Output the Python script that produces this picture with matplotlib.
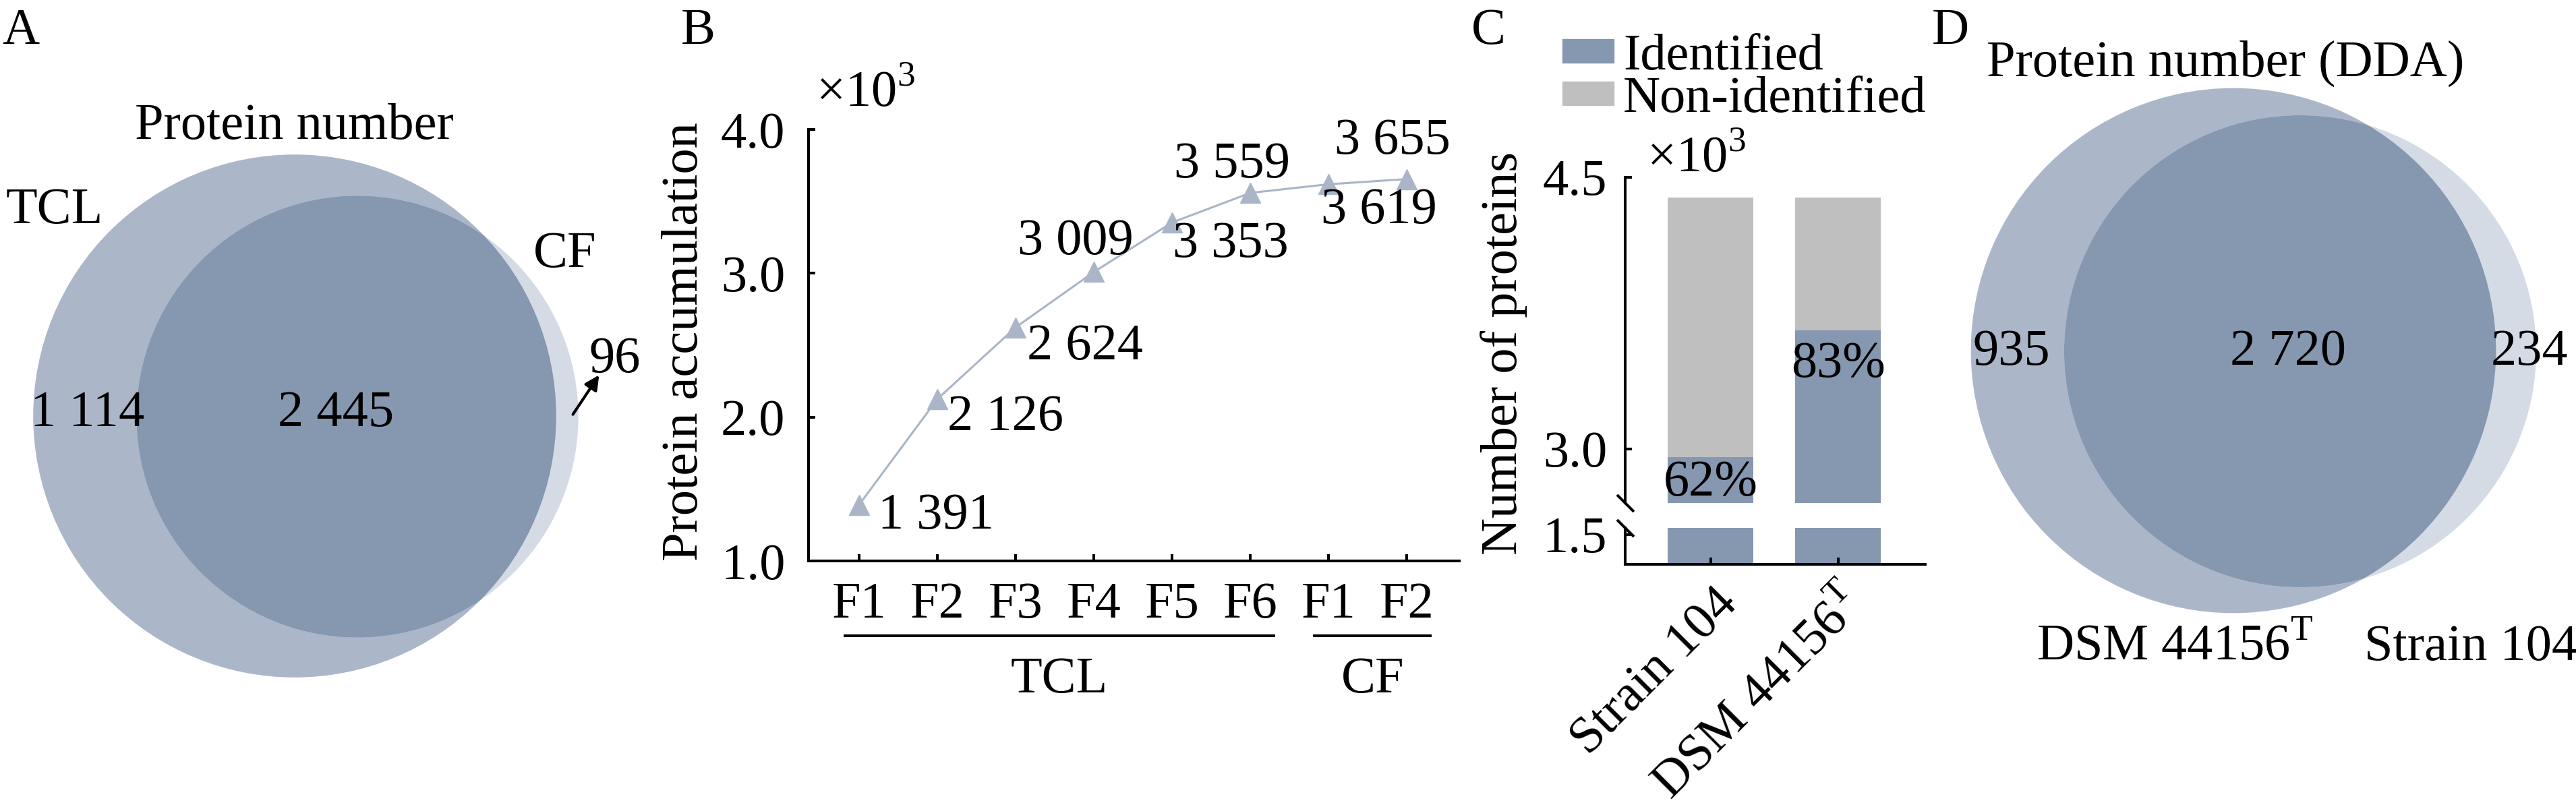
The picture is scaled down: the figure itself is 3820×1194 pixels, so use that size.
import numpy as np
import matplotlib
matplotlib.use('Agg')
import matplotlib.pyplot as plt
from matplotlib.patches import Circle, Patch
from matplotlib import transforms
from matplotlib.ticker import FormatStrFormatter

W, H = 3820, 1194
DPI = 100

# ---- data ----
# A: Venn of protein numbers, TCL vs CF
venn_a_sets = ['TCL', 'CF']
venn_a_only = [1114, 96]
venn_a_shared = 2445

# B: protein accumulation over fractions
fractions = ['F1', 'F2', 'F3', 'F4', 'F5', 'F6', 'F1', 'F2']
fraction_groups = ['TCL', 'CF']
group_first = [0, 6]
group_last = [5, 7]
accumulation = [1391, 2126, 2624, 3009, 3353, 3559, 3619, 3655]

# C: identified / non-identified proteins
strains = ['Strain 104', r'DSM 44156$^{\mathrm{T}}$']
identified = [2954, 3655]
total_proteins = [4390, 4390]
identified_pct = ['62%', '83%']

# D: Venn of protein numbers (DDA)
venn_d_sets = [r'DSM 44156$^{\mathrm{T}}$', 'Strain 104']
venn_d_only = [935, 234]
venn_d_shared = 2720

# ---- style ----
plt.rcParams['font.family'] = ['Liberation Serif', 'DejaVu Serif']
plt.rcParams['mathtext.fontset'] = 'custom'
plt.rcParams['mathtext.rm'] = 'Liberation Serif'
plt.rcParams['font.size'] = 55

MID = '#abb7c9'
DARK = '#8697b0'
LIGHT = '#d5dbe5'
GRAY = '#bfbfbf'
LINE = '#aab5c7'
LW = 2.9


def fmt(n):
    return f'{n:,}'.replace(',', ' ')


def rect(l, t, r, b):
    return [l / W, 1 - b / H, (r - l) / W, (b - t) / H]


def style_axes(ax, left=True, bottom=True):
    for s in ['top', 'right']:
        ax.spines[s].set_visible(False)
    ax.spines['left'].set_visible(left)
    ax.spines['bottom'].set_visible(bottom)
    for s in ['left', 'bottom']:
        ax.spines[s].set_linewidth(LW)
    ax.tick_params(direction='in', length=7, width=LW)


def venn2(ax, centers, sizes, k):
    r = k * np.sqrt(sizes)
    big = Circle(centers[0], r[0], color=MID, lw=0)
    ax.add_patch(big)
    ax.add_patch(Circle(centers[1], r[1], color=LIGHT, lw=0))
    over = Circle(centers[1], r[1], color=DARK, lw=0)
    ax.add_patch(over)
    over.set_clip_path(big)


fig = plt.figure(figsize=(W / DPI, H / DPI), dpi=DPI)

# overlay in pixel units for the Venn panels and free text
ov = fig.add_axes([0, 0, 1, 1])
ov.set_xlim(0, W)
ov.set_ylim(H, 0)
ov.axis('off')

# ---- A ----
sizes_a = np.array([venn_a_only[0] + venn_a_shared, venn_a_only[1] + venn_a_shared])
venn2(ov, [(437, 617), (530, 618)], sizes_a, 6.5)
ov.text(3, 65, 'A', va='baseline')
ov.text(436, 206, 'Protein number', ha='center', va='baseline')
ov.text(9, 331, venn_a_sets[0], va='baseline')
ov.text(791, 396, venn_a_sets[1], va='baseline')
ov.text(130, 632, fmt(venn_a_only[0]), ha='center', va='baseline')
ov.text(498, 632, fmt(venn_a_shared), ha='center', va='baseline')
ov.text(873, 552, fmt(venn_a_only[1]), va='baseline')
ov.annotate('', xy=(890, 554), xytext=(848, 617),
            arrowprops=dict(arrowstyle='-|>', lw=3, color='black', mutation_scale=32))

# ---- B ----
axB = fig.add_axes(rect(1199, 192, 2164, 832))
xb = np.arange(len(fractions))
yb = np.array(accumulation) / 1000
axB.plot(xb, yb, color=LINE, lw=2.2, marker='^', ms=21, clip_on=False, zorder=3)
axB.set_xlim(-0.647, 7.67)
axB.set_ylim(1, 4)
axB.set_yticks([1, 2, 3, 4])
axB.yaxis.set_major_formatter(FormatStrFormatter('%.1f'))
axB.set_xticks(xb, fractions)
style_axes(axB)
axB.tick_params(axis='y', pad=25)
axB.tick_params(axis='x', pad=22)
axB.set_ylabel('Protein accumulation')
axB.yaxis.set_label_coords(-0.154, 0.509)

# label offsets (pixels) and alignment for each point
label_pos = [(28, -35, 'left'), (15, -46, 'left'), (17, -47, 'left'), (-27, 26, 'center'),
             (1, -51, 'left'), (-27, 23, 'center'), (-11, -58, 'left'), (-21, 38, 'center')]
for xi, v, (dx, dy, ha) in zip(xb, accumulation, label_pos):
    axB.annotate(fmt(v), (xi, v / 1000), xytext=(dx, dy), textcoords='offset pixels',
                 ha=ha, va='baseline')

blend = transforms.blended_transform_factory(axB.transData, axB.transAxes)
for g, a, b in zip(fraction_groups, group_first, group_last):
    x0, x1 = a - 0.2, b + 0.32
    axB.plot([x0, x1], [-0.173, -0.173], transform=blend, color='k', lw=LW,
             clip_on=False, solid_capstyle='butt')
    axB.text((x0 + x1) / 2, -0.305, g, transform=blend, ha='center', va='baseline')
ov.text(1010, 65, 'B', va='baseline')
ov.text(1210, 158, '×10$^{3}$', va='baseline')

# ---- C ----
axCu = fig.add_axes(rect(2410, 263, 2855, 746))
axCl = fig.add_axes(rect(2410, 783, 2855, 837))
xc = np.arange(len(strains))
ident_k = np.array(identified) / 1000
total_k = np.array(total_proteins) / 1000
bw = 0.672
for ax in (axCu, axCl):
    ax.bar(xc, ident_k, bw, color=DARK)
    ax.bar(xc, total_k - ident_k, bw, bottom=ident_k, color=GRAY)
    ax.set_xlim(-0.672, 1.683)
    ax.yaxis.set_major_formatter(FormatStrFormatter('%.1f'))
axCu.set_ylim(2.70, 4.5)
axCl.set_ylim(1.336, 1.537)
axCu.set_yticks([3.0, 4.5])
axCl.set_yticks([1.5])
style_axes(axCu, bottom=False)
style_axes(axCl)
axCu.set_xticks([])
axCu.tick_params(axis='y', pad=19.4)
axCl.tick_params(axis='y', pad=19.4)
axCl.tick_params(axis='x', pad=17)
axCl.set_xticks(xc)
axCl.set_xticklabels(strains, rotation=45, ha='right', va='top', rotation_mode='anchor')
shift = transforms.ScaledTranslation(0.04, 0, fig.dpi_scale_trans)
for lab in axCl.get_xticklabels():
    lab.set_transform(lab.get_transform() + shift)

brk = dict(marker=[(-1, 1), (1, -1)], markersize=18, linestyle='none', color='k',
           mec='k', mew=LW, clip_on=False)
axCu.plot([0], [0], transform=axCu.transAxes, **brk)
axCl.plot([0], [1], transform=axCl.transAxes, **brk)

pct_dy = [-57, -69]
for xi, v, p, dy in zip(xc, ident_k, identified_pct, pct_dy):
    axCu.annotate(p, (xi, v), xytext=(0, dy), textcoords='offset pixels',
                  ha='center', va='baseline')

axCu.set_ylabel('Number of proteins')
axCu.yaxis.set_label_coords(-0.326, 0.46)
axCu.legend(handles=[Patch(color=DARK), Patch(color=GRAY)],
            labels=['Identified', 'Non-identified'],
            loc='upper left', bbox_to_anchor=(2317 / W, 1 - 50 / H),
            bbox_transform=fig.transFigure, frameon=False,
            handlelength=1.0, handleheight=0.32, handletextpad=0.18,
            labelspacing=-0.08, borderpad=0, borderaxespad=0)
ov.text(2182, 65, 'C', va='baseline')
ov.text(2442, 255, '×10$^{3}$', va='baseline')

# ---- D ----
sizes_d = np.array([venn_d_only[0] + venn_d_shared, venn_d_only[1] + venn_d_shared])
venn2(ov, [(3312, 520), (3411, 521)], sizes_d, 6.44)
ov.text(2865, 65, 'D', va='baseline')
ov.text(3300, 113, 'Protein number (DDA)', ha='center', va='baseline')
ov.text(2983, 541, fmt(venn_d_only[0]), ha='center', va='baseline')
ov.text(3393, 541, fmt(venn_d_shared), ha='center', va='baseline')
ov.text(3751, 541, fmt(venn_d_only[1]), ha='center', va='baseline')
ov.text(3225, 979, venn_d_sets[0], ha='center', va='baseline')
ov.text(3664, 979, venn_d_sets[1], ha='center', va='baseline')

fig.savefig('out.png', dpi=DPI)
